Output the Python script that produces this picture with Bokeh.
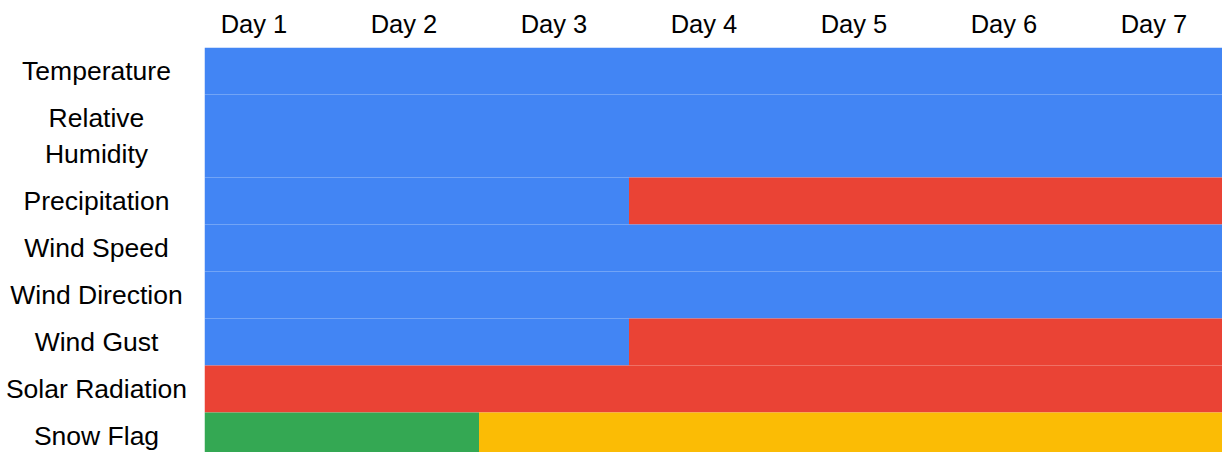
from bokeh.plotting import figure
from bokeh.layouts import row
from bokeh.models import Range1d, FixedTicker, ColumnDataSource
from bokeh.embed import file_html
from bokeh.resources import INLINE
from bokeh.core.properties import value

# ---- data ----
row_labels = ["Temperature", "Relative\nHumidity", "Precipitation", "Wind Speed",
              "Wind Direction", "Wind Gust", "Solar Radiation", "Snow Flag"]
seg_row = ["Temperature", "Relative\nHumidity", "Precipitation", "Precipitation",
           "Wind Speed", "Wind Direction", "Wind Gust", "Wind Gust",
           "Solar Radiation", "Snow Flag", "Snow Flag"]
seg_start = [0.67, 0.67, 0.67, 3.5, 0.67, 0.67, 0.67, 3.5, 0.67, 0.67, 2.5]
seg_end = [7.5, 7.5, 3.5, 7.5, 7.5, 7.5, 3.5, 7.5, 7.5, 2.5, 7.5]
seg_status = ["Valid", "Valid", "Valid", "Invalid", "Valid", "Valid", "Valid",
              "Invalid", "Invalid", "Snow", "No Snow"]
status_colors = {"Valid": "#4285F4", "Invalid": "#EA4335",
                 "Snow": "#34A853", "No Snow": "#FBBC05"}
day_ticks = [1, 2, 3, 4, 5, 6, 7]
day_labels = ["Day 1", "Day 2", "Day 3", "Day 4", "Day 5", "Day 6", "Day 7"]

# ---- layout constants ----
LEFT_W = 204
PLOT_W = 1018
H = 452
TOP = 47
ROW_PX = 47
LINE_PX = 36
PX_PER_DAY = 150
FONT = "Liberation Sans"

# row geometry (y grows downward, units = px)
edges = [0]
for lab in row_labels:
    n = lab.count("\n") + 1
    edges.append(edges[-1] + ROW_PX + LINE_PX * (n - 1))
row_top = {lab: edges[i] for i, lab in enumerate(row_labels)}
row_bot = {lab: edges[i + 1] for i, lab in enumerate(row_labels)}
row_mid = [(edges[i] + edges[i + 1]) / 2 for i in range(len(row_labels))]

y_range = Range1d(H - TOP, 0)
x0 = min(seg_start)
x_range = Range1d(x0, x0 + PLOT_W / PX_PER_DAY)

src = ColumnDataSource(dict(
    left=seg_start, right=seg_end,
    top=[row_top[r] for r in seg_row], bottom=[row_bot[r] for r in seg_row],
    color=[status_colors[s] for s in seg_status],
))

p = figure(width=PLOT_W, height=H, x_range=x_range, y_range=y_range,
           x_axis_location="above", y_axis_location=None,
           toolbar_location=None, output_backend="svg",
           min_border_left=0, min_border_right=0, min_border_top=TOP,
           min_border_bottom=0)
p.quad(left="left", right="right", top="top", bottom="bottom",
       fill_color="color", line_color=None, source=src)
p.xgrid.visible = False
p.ygrid.visible = False
p.outline_line_color = None
ax = p.xaxis[0]
ax.ticker = FixedTicker(ticks=day_ticks)
ax.major_label_overrides = {t: l for t, l in zip(day_ticks, day_labels)}
ax.axis_line_color = None
ax.major_tick_line_color = None
ax.minor_tick_line_color = None
ax.major_tick_out = 0
ax.major_tick_in = 0
ax.major_label_standoff = 10
ax.major_label_text_font = FONT
ax.major_label_text_font_size = "25.5px"
ax.major_label_text_color = "#000000"

lp = figure(width=LEFT_W, height=H, x_range=Range1d(0, LEFT_W), y_range=y_range,
            x_axis_location=None, y_axis_location=None,
            toolbar_location=None, output_backend="svg",
            min_border_left=0, min_border_right=0, min_border_top=TOP,
            min_border_bottom=0)
lp.xgrid.visible = False
lp.ygrid.visible = False
lp.outline_line_color = None
lp.text(x=[96] * len(row_labels), y=row_mid, text=row_labels,
        text_align="center", text_baseline="middle",
        text_font=value(FONT), text_font_size="26.5px", text_color="#000000",
        text_line_height=1.22)

layout = row(lp, p, spacing=0)
open("out.html", "w").write(file_html(layout, INLINE))
